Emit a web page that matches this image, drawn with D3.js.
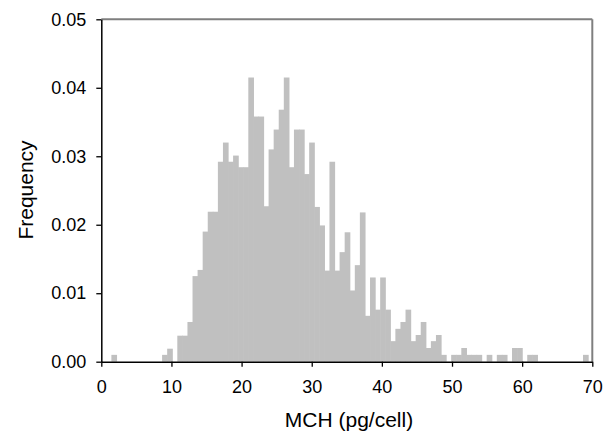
<!DOCTYPE html>
<html>
<head>
<meta charset="utf-8">
<script src="https://cdn.jsdelivr.net/npm/d3@7"></script>
<style>
  body { margin: 0; background: #fff; }
  svg text { font-family: "Liberation Sans", Arial, sans-serif; fill: #000; }
</style>
</head>
<body>
<div id="chart-area"></div>
<script>
// histogram of MCH, uniform bins
var binStart = 1.48
var binWidth = 0.723
var frequency = [
    0.0010, 0, 0, 0, 0, 0, 0, 0, 0, 0,
    0.0010, 0.0019, 0, 0.0038, 0.0038, 0.0058, 0.0125, 0.0134, 0.0190, 0.0219,
    0.0219, 0.0292, 0.0320, 0.0292, 0.0301, 0.0284, 0.0284, 0.0415, 0.0358, 0.0358,
    0.0227, 0.0310, 0.0339, 0.0368, 0.0415, 0.0284, 0.0339, 0.0339, 0.0274, 0.0320,
    0.0226, 0.0199, 0.0133, 0.0292, 0.0133, 0.0160, 0.0189, 0.0104, 0.0141, 0.0218,
    0.0067, 0.0123, 0.0076, 0.0123, 0.0076, 0.0030, 0.0048, 0.0058, 0.0076, 0.0030,
    0.0039, 0.0058, 0.0020, 0.0030, 0.0039, 0.0010, 0, 0.0010, 0.0010, 0.0020,
    0.0010, 0.0010, 0.0010, 0, 0.0010, 0, 0.0010, 0.0010, 0, 0.0020,
    0.0020, 0, 0.0010, 0.0010, 0, 0, 0, 0, 0, 0,
    0, 0, 0, 0.0010
]
var xTicks = [0, 10, 20, 30, 40, 50, 60, 70]
var yTicks = [0, 0.01, 0.02, 0.03, 0.04, 0.05]

var bins = frequency.map(function(f, i) {
    return {x0: binStart + i * binWidth, x1: binStart + (i + 1) * binWidth, freq: f}
})

var svgWidth = 608
var svgHeight = 431
var margin = {top: 19.3, right: 15.7, bottom: 69.3, left: 101.3}
var chartWidth = svgWidth - margin.left - margin.right
var chartHeight = svgHeight - margin.top - margin.bottom

var svg = d3.select("#chart-area").append("svg")
    .attr("width", svgWidth)
    .attr("height", svgHeight)

var chartGroup = svg.append("g")
    .attr("transform", `translate(${margin.left},${margin.top})`)

var xScale = d3.scaleLinear().domain([0, 70]).range([0, chartWidth])
var yScale = d3.scaleLinear().domain([0, 0.05]).range([chartHeight, 0])

// overlap slightly so no seams show between neighbouring bars
chartGroup.selectAll(".bar")
    .data(bins.filter(d => d.freq > 0))
    .enter().append("rect")
    .attr("class", "bar")
    .attr("x", d => xScale(d.x0) - 0.3)
    .attr("width", d => xScale(d.x1) - xScale(d.x0) + 0.6)
    .attr("y", d => yScale(d.freq))
    .attr("height", d => chartHeight - yScale(d.freq))
    .attr("fill", "#c0c0c0")

// grey frame on top and right
chartGroup.append("line")
    .attr("x1", 0).attr("x2", chartWidth)
    .attr("y1", 0).attr("y2", 0)
    .attr("stroke", "#7f7f7f").attr("stroke-width", 2)
chartGroup.append("line")
    .attr("x1", chartWidth).attr("x2", chartWidth)
    .attr("y1", 0).attr("y2", chartHeight)
    .attr("stroke", "#7f7f7f").attr("stroke-width", 2)

var xAxis = chartGroup.append("g")
    .attr("transform", `translate(0,${chartHeight})`)
    .call(d3.axisBottom(xScale).tickValues(xTicks).tickSize(5).tickPadding(14).tickSizeOuter(0))
var yAxis = chartGroup.append("g")
    .call(d3.axisLeft(yScale).tickValues(yTicks).tickFormat(d3.format(".2f")).tickSize(5).tickPadding(10).tickSizeOuter(0))

svg.selectAll(".domain").attr("stroke", "#000").attr("stroke-width", 1.5)
svg.selectAll(".tick line").attr("stroke", "#000").attr("stroke-width", 1.3)
svg.selectAll(".tick text").attr("font-size", "18px").attr("font-family", "Liberation Sans, Arial, sans-serif")

svg.append("text")
    .attr("x", 349)
    .attr("y", 426.5)
    .attr("text-anchor", "middle")
    .attr("font-size", "21px")
    .text("MCH (pg/cell)")

svg.append("text")
    .attr("transform", "translate(33,190) rotate(-90)")
    .attr("text-anchor", "middle")
    .attr("font-size", "21px")
    .text("Frequency")
</script>
</body>
</html>
